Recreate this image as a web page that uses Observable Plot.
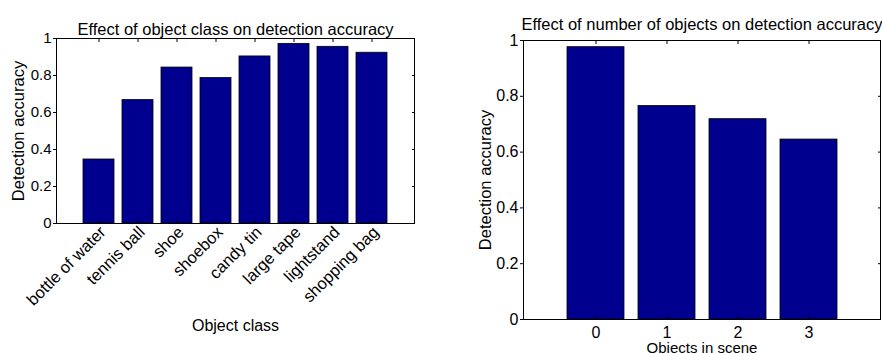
<!DOCTYPE html>
<html>
<head>
<meta charset="utf-8">
<script src="https://cdn.jsdelivr.net/npm/d3@7"></script>
<script src="https://cdn.jsdelivr.net/npm/@observablehq/plot@0.6"></script>
<style>
  html, body { margin: 0; padding: 0; background: #fff; }
  #wrap { display: flex; width: 882px; height: 353px; overflow: hidden; }
  svg { display: block; }
</style>
</head>
<body>
<div id="wrap"></div>
<script>
// Left chart data
const classes = ["bottle of water", "tennis ball", "shoe", "shoebox", "candy tin", "large tape", "lightstand", "shopping bag"];
const classAccuracy = [0.346, 0.667, 0.843, 0.786, 0.903, 0.971, 0.955, 0.923];
// Right chart data
const objectCounts = ["0", "1", "2", "3"];
const countAccuracy = [0.976, 0.765, 0.718, 0.645];
// Shared tick labels
const yTicks = [0, 0.2, 0.4, 0.6, 0.8, 1];

const titleLeft = "Effect of object class on detection accuracy";
const titleRight = "Effect of number of objects on detection accuracy";
const yLabel = "Detection accuracy";
const xLabelLeft = "Object class";
const xLabelRight = "Objects in scene";

const barFill = "#00008f";
const font = "Helvetica, Arial, 'Liberation Sans', sans-serif";
const blank = () => "";

function chart({cats, vals, title, xLabel, mL, mR, mT, mB, rotate, xLabelDy, xLabelSize, titleDy, tickSize}) {
  const data = cats.map((c, i) => ({c, v: vals[i]}));
  return Plot.plot({
    width: 441,
    height: 353,
    marginLeft: mL,
    marginRight: mR,
    marginTop: mT,
    marginBottom: mB,
    style: {fontFamily: font, background: "#fff", color: "#000", overflow: "visible"},
    x: {type: "band", domain: cats, paddingInner: 0.2, paddingOuter: 0.6},
    y: {domain: [0, 1]},
    marks: [
      Plot.barY(data, {x: "c", y: "v", fill: barFill, stroke: "#000", strokeWidth: 0.8}),
      Plot.frame({stroke: "#000", strokeWidth: 1}),
      Plot.axisY({anchor: "left", ticks: yTicks, tickSize: 3, tickPadding: 2, tickFormat: d => String(d), fontSize: tickSize, label: null}),
      Plot.axisY({anchor: "right", ticks: yTicks, tickSize: 3, dx: -3, tickFormat: blank, label: null}),
      Plot.axisX({anchor: "top", tickSize: 3, dy: 3, tickFormat: blank, label: null}),
      Plot.axisX({anchor: "bottom", tickSize: 3, dy: -3, tickFormat: blank, label: null}),
      rotate
        ? Plot.axisX({anchor: "bottom", tickSize: 0, tickPadding: 6, tickRotate: -45, fontSize: 16.5, label: null, dx: 4})
        : Plot.axisX({anchor: "bottom", tickSize: 0, tickPadding: 7, fontSize: tickSize, label: null}),
      Plot.text([title], {frameAnchor: "top", dy: titleDy, lineAnchor: "bottom", fontSize: 16.5, text: d => d}),
      Plot.text([yLabel], {frameAnchor: "left", dx: -38, rotate: -90, textAnchor: "middle", fontSize: 16.5, text: d => d}),
      Plot.text([xLabel], {frameAnchor: "bottom", dy: xLabelDy, textAnchor: "middle", fontSize: xLabelSize, text: d => d})
    ]
  });
}

const wrap = document.getElementById("wrap");
wrap.appendChild(chart({
  cats: classes, vals: classAccuracy, title: titleLeft, xLabel: xLabelLeft,
  mL: 56, mR: 27, mT: 38, mB: 130, rotate: true, xLabelDy: 107, xLabelSize: 16, titleDy: -4,
  tickSize: 15
}));
wrap.appendChild(chart({
  cats: objectCounts, vals: countAccuracy, title: titleRight, xLabel: xLabelRight,
  mL: 82, mR: 2, mT: 40, mB: 34, rotate: false, xLabelDy: 33, xLabelSize: 15, titleDy: -11,
  tickSize: 16
}));
</script>
</body>
</html>
